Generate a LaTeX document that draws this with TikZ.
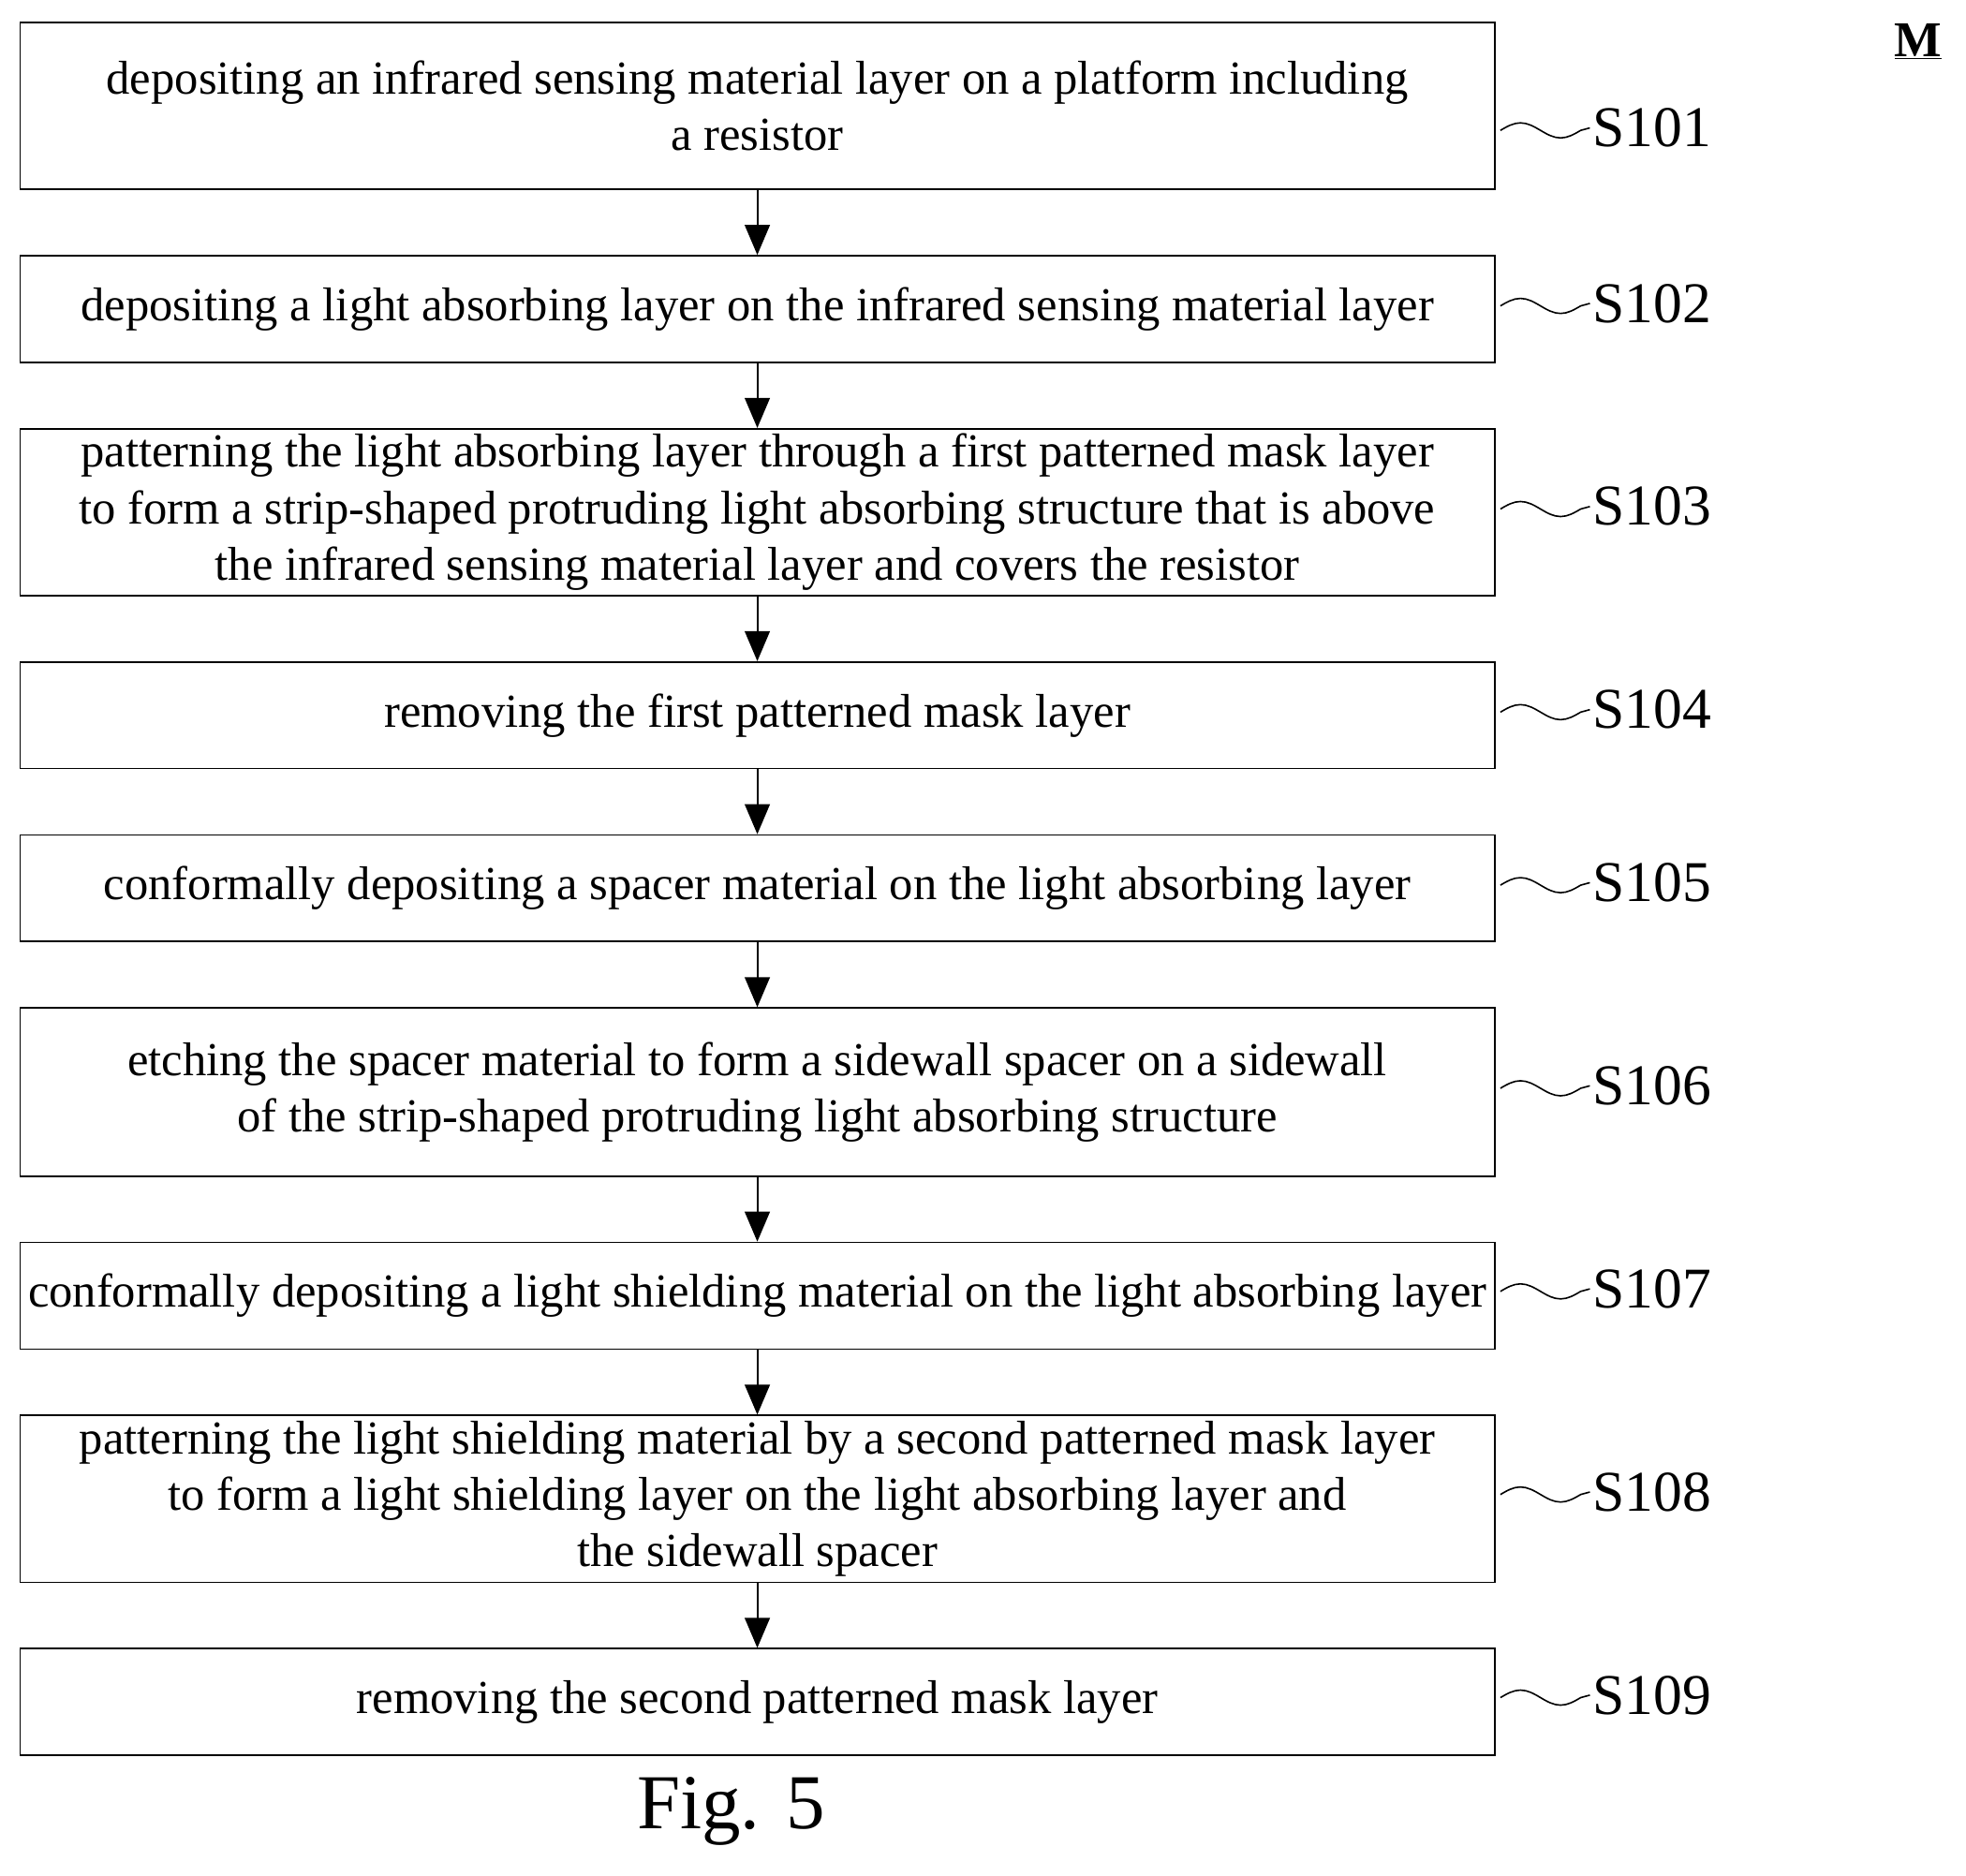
\documentclass[tikz,border=0pt]{standalone}
\usepackage{fontspec}
\setmainfont{Liberation Serif}
\usetikzlibrary{arrows.meta}
\begin{document}
\begin{tikzpicture}[x=1pt,y=-1pt,
  box/.style={draw,line width=1.3pt,minimum width=1176pt,align=center,font=\fontsize{37.8}{45}\selectfont,inner sep=0pt},
  lab/.style={anchor=west,font=\fontsize{46}{46}\selectfont,inner sep=0pt},
  arr/.style={line width=1.5pt,-{Triangle[length=24pt,width=20pt]}},
  wav/.style={line width=1.2pt}]
\useasboundingbox (0,0) rectangle (1568,1496);
\def\mk#1#2#3#4{\node[box,minimum height=#3pt] (#1) at (604,#2) {#4};}
\mk{b1}{84.5}{133}{depositing an infrared sensing material layer on a platform including\\a resistor}
\mk{b2}{246.5}{85}{depositing a light absorbing layer on the infrared sensing material layer}
\mk{b3}{408.5}{133}{patterning the light absorbing layer through a first patterned mask layer\\to form a strip-shaped protruding light absorbing structure that is above\\the infrared sensing material layer and covers the resistor}
\mk{b4}{570.5}{85}{removing the first patterned mask layer}
\mk{b5}{708.5}{85}{conformally depositing a spacer material on the light absorbing layer}
\mk{b6}{871}{134}{etching the spacer material to form a sidewall spacer on a sidewall\\of the strip-shaped protruding light absorbing structure}
\mk{b7}{1033.5}{85}{conformally depositing a light shielding material on the light absorbing layer}
\mk{b8}{1195.5}{133}{patterning the light shielding material by a second patterned mask layer\\to form a light shielding layer on the light absorbing layer and\\the sidewall spacer}
\mk{b9}{1357.5}{85}{removing the second patterned mask layer}
\foreach \i/\s/\yy in {1/S101/102,2/S102/242,3/S103/404,4/S104/566,5/S105/704,6/S106/866,7/S107/1028,8/S108/1190,9/S109/1352}{
  \node[lab] (m\i) at (1270,\yy) {\s};
  \draw[wav] ([xshift=4pt]b\i.east |- m\i.west) ++(0,2) sin ++(16,-6) cos ++(16,6) sin ++(16,6) cos ++(16,-6) -- ([xshift=-2pt]m\i.west);
}
\foreach \a/\b in {b1/b2,b2/b3,b3/b4,b4/b5,b5/b6,b6/b7,b7/b8,b8/b9}
  \draw[arr] (\a.south) -- (\b.north);
\node[font=\fontsize{62}{62}\selectfont] (fig) at (583,1445) {Fig. 5};
\node[font=\fontsize{40}{40}\selectfont\bfseries] (M) at (1530,33) {\underline{M}};
\end{tikzpicture}
\end{document}
